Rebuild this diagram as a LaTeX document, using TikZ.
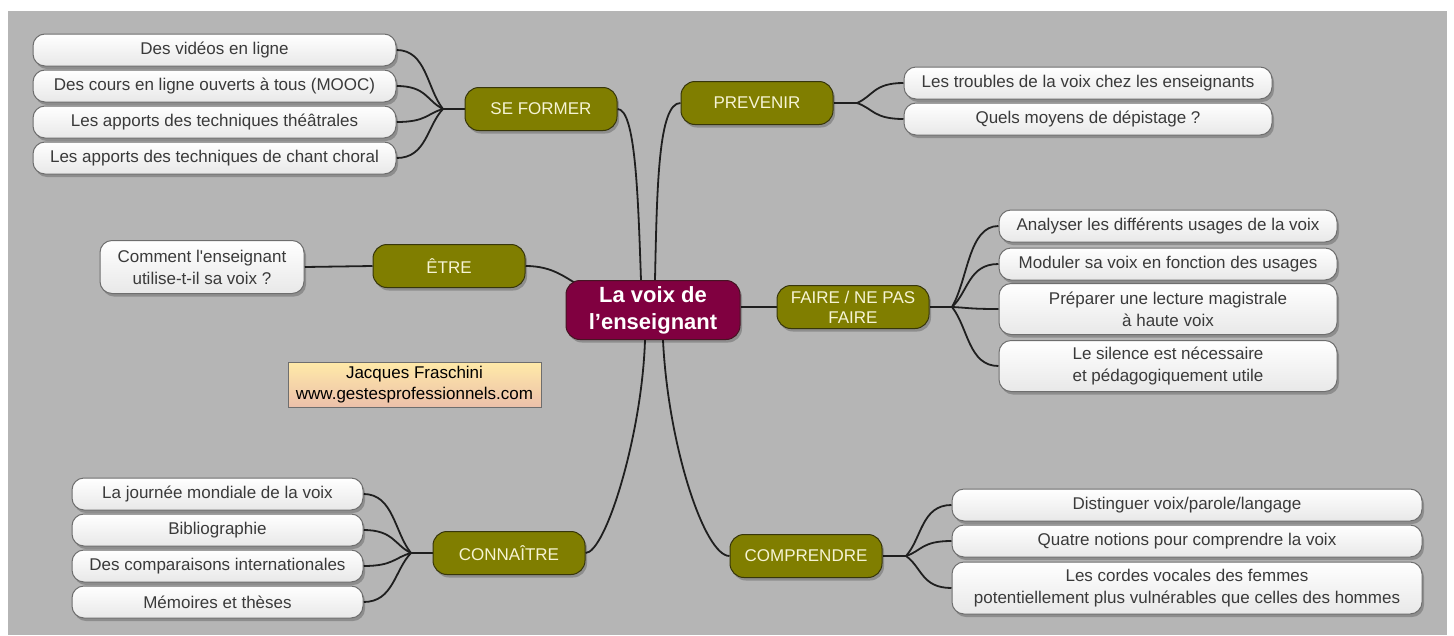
\documentclass[tikz,border=0pt]{standalone}
\usepackage{fontspec}
\setmainfont{Liberation Sans}
\usetikzlibrary{calc,shadows}

\pgfdeclarelayer{background}
\pgfsetlayers{background,main}

\definecolor{fond}{RGB}{181,181,181}
\definecolor{olivebox}{RGB}{128,126,0}
\definecolor{olivedark}{RGB}{55,54,10}
\definecolor{bordeaux}{RGB}{128,0,64}
\definecolor{bordeauxdark}{RGB}{70,20,35}
\definecolor{creme}{RGB}{246,244,212}
\definecolor{texte}{RGB}{58,58,58}
\definecolor{bord}{RGB}{110,110,110}
\definecolor{jaune}{RGB}{255,234,168}
\definecolor{peche}{RGB}{236,192,170}

\tikzset{
  lien/.style={line width=1.8pt, draw=black!88},
  ombre/.style={drop shadow={shadow xshift=2pt, shadow yshift=-3pt, opacity=0.22, fill=black}},
  theme/.style={ombre, draw=olivedark, line width=1pt, fill=olivebox, text=creme,
    rounded corners=14pt, minimum width=152pt, minimum height=43pt, align=center,
    inner sep=2pt, font=\fontsize{17}{20}\selectfont},
  centre/.style={theme, draw=bordeauxdark, fill=bordeaux, text=white, minimum width=174pt,
    minimum height=59pt, font=\fontsize{22}{27}\selectfont\bfseries},
  idee/.style={ombre, draw=bord, line width=1pt, top color=white, bottom color=black!9,
    text=texte, rounded corners=12pt, minimum height=32pt, align=center, inner sep=3pt,
    font=\fontsize{17}{22}\selectfont},
  auteur/.style={draw=bord, line width=1pt, top color=jaune, bottom color=peche, text=black,
    minimum width=253pt, minimum height=45pt, align=center, inner sep=2pt,
    font=\fontsize{17}{21}\selectfont},
  gauche/.style={to path={.. controls ($(\tikztostart)!0.35!(\tikztotarget)$) and ($(\tikztotarget)+(30,0)$) .. (\tikztotarget)}},
  droite/.style={to path={.. controls ($(\tikztostart)!0.35!(\tikztotarget)$) and ($(\tikztotarget)+(-30,0)$) .. (\tikztotarget)}},
}

\begin{document}
\begin{tikzpicture}[x=1pt, y=-1pt]
  \useasboundingbox (0,0) rectangle (1454,635);

  % centre et branches
  \node[centre] (voix) at (653,310) {La voix de\\l’enseignant};
  \node[theme] (former) at (541,109) {SE FORMER};
  \node[theme] (prevenir) at (757,103) {PREVENIR};
  \node[theme] (etre) at (449,266) {ÊTRE};
  \node[theme] (faire) at (853,307) {FAIRE / NE PAS\\FAIRE};
  \node[theme] (connaitre) at (509,553) {CONNAÎTRE};
  \node[theme] (comprendre) at (806,556) {COMPRENDRE};

  \node[auteur] (signature) at (414.5,384.5) {Jacques Fraschini\\www.gestesprofessionnels.com};

  % idees
  \node[idee, minimum width=363pt] (f1) at (214.5,50) {Des vidéos en ligne};
  \node[idee, minimum width=363pt] (f2) at (214.5,86) {Des cours en ligne ouverts à tous (MOOC)};
  \node[idee, minimum width=363pt] (f3) at (214.5,122) {Les apports des techniques théâtrales};
  \node[idee, minimum width=363pt] (f4) at (214.5,158) {Les apports des techniques de chant choral};

  \node[idee, minimum width=368pt] (p1) at (1088,83) {Les troubles de la voix chez les enseignants};
  \node[idee, minimum width=368pt] (p2) at (1088,119) {Quels moyens de dépistage ?};

  \node[idee, minimum width=204pt, minimum height=53pt] (e1) at (202,267) {Comment l\textquotesingle enseignant\\utilise-t-il sa voix ?};

  \node[idee, minimum width=338pt] (a1) at (1168,226) {Analyser les différents usages de la voix};
  \node[idee, minimum width=338pt] (a2) at (1168,264) {Moduler sa voix en fonction des usages};
  \node[idee, minimum width=338pt, minimum height=51pt] (a3) at (1168,309) {Préparer une lecture magistrale\\à haute voix};
  \node[idee, minimum width=338pt, minimum height=51pt] (a4) at (1168,366) {Le silence est nécessaire\\et pédagogiquement utile};

  \node[idee, minimum width=291pt] (c1) at (217.5,494) {La journée mondiale de la voix};
  \node[idee, minimum width=291pt] (c2) at (217.5,530) {Bibliographie};
  \node[idee, minimum width=291pt] (c3) at (217.5,566) {Des comparaisons internationales};
  \node[idee, minimum width=291pt] (c4) at (217.5,602) {Mémoires et thèses};

  \node[idee, minimum width=470pt] (m1) at (1187,505) {Distinguer voix/parole/langage};
  \node[idee, minimum width=470pt] (m2) at (1187,541) {Quatre notions pour comprendre la voix};
  \node[idee, minimum width=470pt, minimum height=52pt] (m3) at (1187,588) {Les cordes vocales des femmes\\potentiellement plus vulnérables que celles des hommes};

  \coordinate (jform) at (443,109);
  \coordinate (jprev) at (857,103);
  \coordinate (jfaire) at (952,307);
  \coordinate (jconn) at (411,553);
  \coordinate (jcomp) at (906,556);

  \begin{pgfonlayer}{background}
    \fill[white] (0,0) rectangle (1454,635);
    \fill[fond] (8,11) rectangle (1447,635);

    \draw[lien] ($(voix.north)+(-12,0)$) .. controls +(-3,-85) and +(18,0) .. (former.east);
    \draw[lien] ($(voix.north)+(2,0)$) .. controls +(2,-95) and +(-22,0) .. (prevenir.west);
    \draw[lien] (etre.east) .. controls +(28,0) and +(-18,-10) .. ($(voix.north west)+(18,8)$);
    \draw[lien] (voix.east |- faire) -- (faire.west);
    \draw[lien] ($(voix.south)+(-8,0)$) .. controls +(-3,95) and +(20,0) .. (connaitre.east);
    \draw[lien] ($(voix.south)+(10,0)$) .. controls +(5,105) and +(-25,0) .. (comprendre.west);

    \draw[lien] (former.west) -- (jform);
    \foreach \f in {f1,f2,f3,f4} \draw[lien] (jform) to[gauche] (\f.east);
    \draw[lien] (prevenir.east) -- (jprev);
    \foreach \p in {p1,p2} \draw[lien] (jprev) to[droite] (\p.west);
    \draw[lien] (etre.west) -- (e1.east);
    \draw[lien] (faire.east) -- (jfaire);
    \foreach \a in {a1,a2,a3,a4} \draw[lien] (jfaire) to[droite] (\a.west);
    \draw[lien] (connaitre.west) -- (jconn);
    \foreach \c in {c1,c2,c3,c4} \draw[lien] (jconn) to[gauche] (\c.east);
    \draw[lien] (comprendre.east) -- (jcomp);
    \foreach \m in {m1,m2,m3} \draw[lien] (jcomp) to[droite] (\m.west);
  \end{pgfonlayer}
\end{tikzpicture}
\end{document}
